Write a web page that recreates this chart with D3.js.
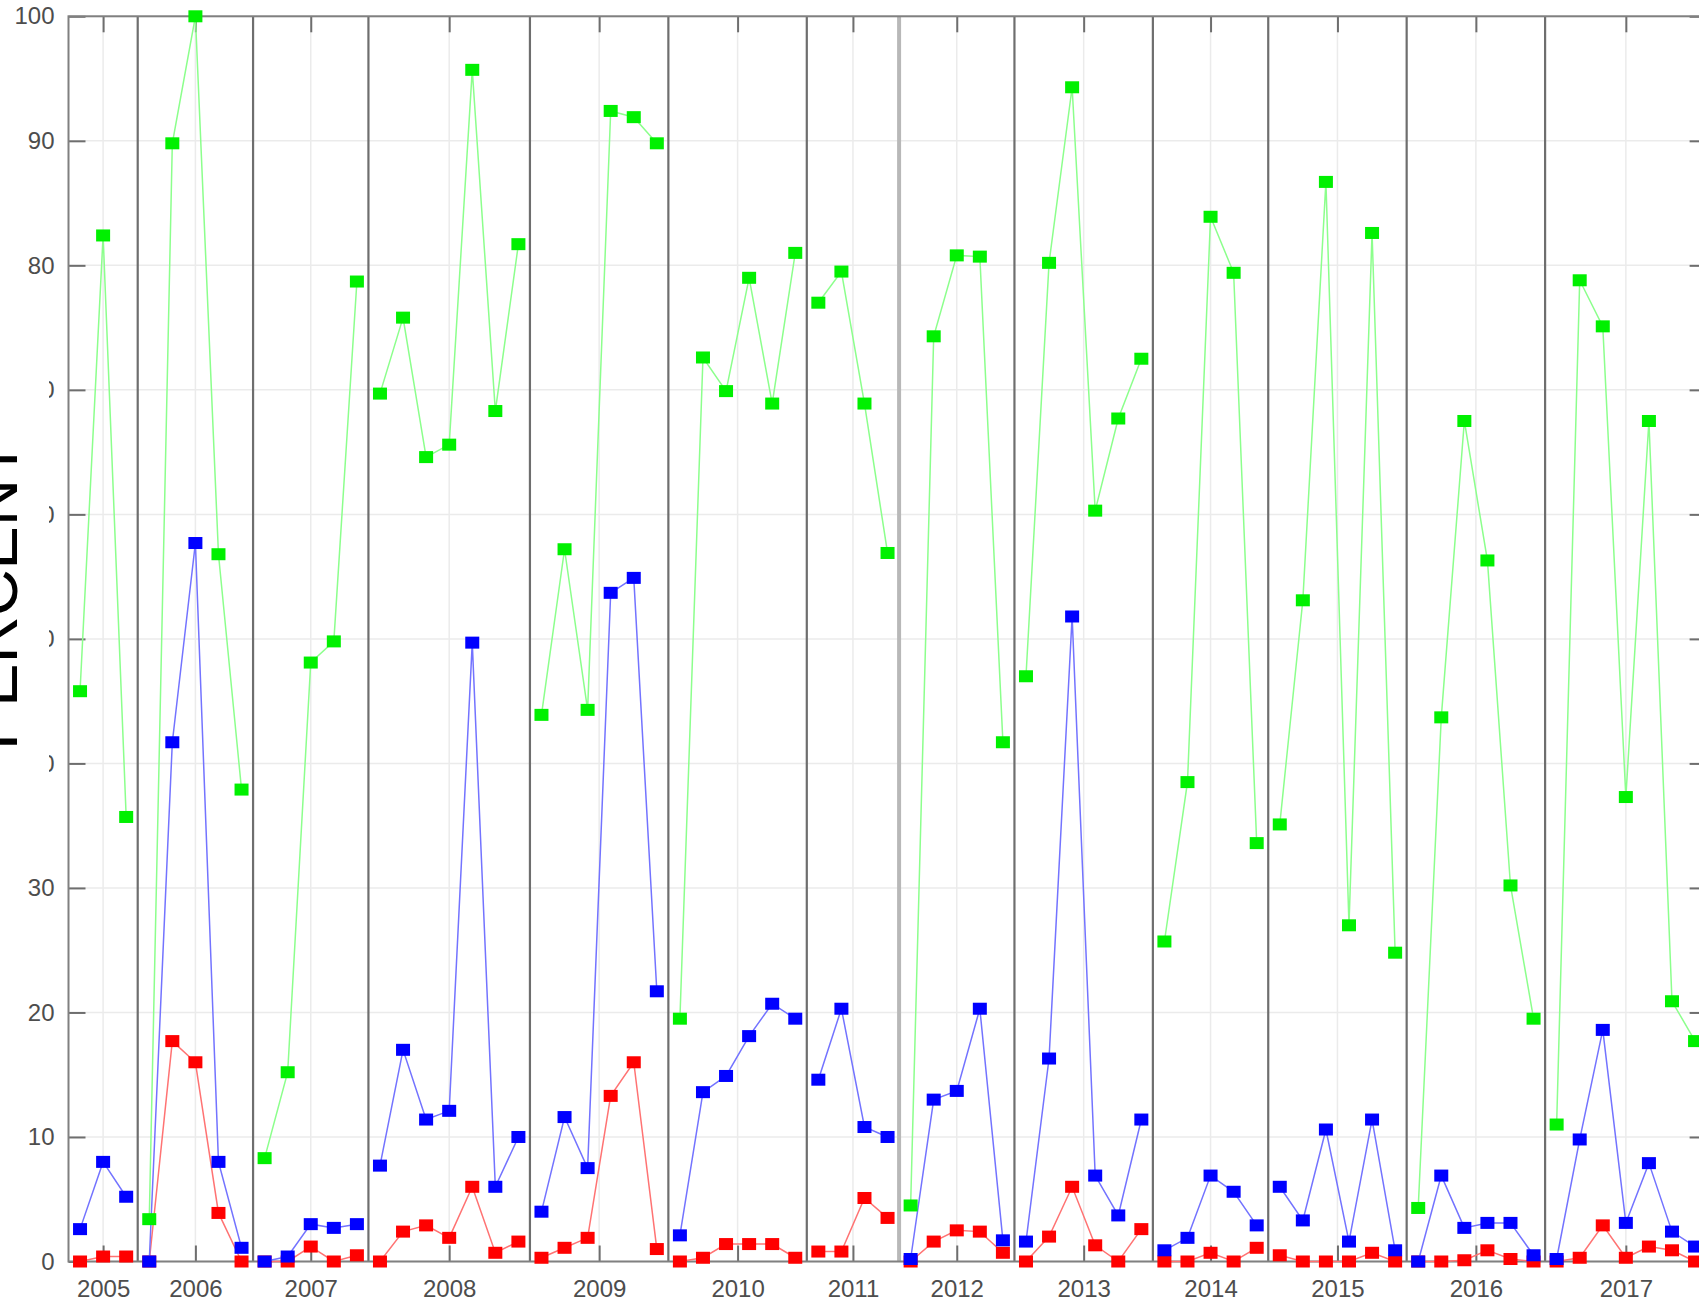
<!DOCTYPE html>
<html>
<head>
<meta charset="utf-8">
<script src="https://cdn.jsdelivr.net/npm/d3@7"></script>
<style>
  html, body { margin: 0; padding: 0; background: #fff; }
  svg { display: block; font-family: "Liberation Sans", Arial, Helvetica, sans-serif; }
</style>
</head>
<body>
<figure id="chart" style="margin:0"></figure>
<script>
// tick labels and how many readings fall in each year
const years = ["2005", "2006", "2007", "2008", "2009", "2010", "2011", "2012", "2013", "2014", "2015", "2016", "2017"];
const countsPerYear = [3, 5, 5, 7, 6, 6, 4, 5, 6, 5, 6, 6, 7];
const yTicks = [0, 10, 20, 30, 40, 50, 60, 70, 80, 90, 100];

// series values (percent), in order of the readings
const greenValues = [
  45.8, 82.4, 35.7,
  3.4, 89.8, 100, 56.8, 37.9,
  8.3, 15.2, 48.1, 49.8, 78.7,
  69.7, 75.8, 64.6, 65.6, 95.7, 68.3, 81.7,
  43.9, 57.2, 44.3, 92.4, 91.9, 89.8,
  19.5, 72.6, 69.9, 79.0, 68.9, 81.0,
  77.0, 79.5, 68.9, 56.9,
  4.5, 74.3, 80.8, 80.7, 41.7,
  47.0, 80.2, 94.3, 60.3, 67.7, 72.5,
  25.7, 38.5, 83.9, 79.4, 33.6,
  35.1, 53.1, 86.7, 27.0, 82.6, 24.8,
  4.3, 43.7, 67.5, 56.3, 30.2, 19.5,
  11.0, 78.8, 75.1, 37.3, 67.5, 20.9, 17.7
];
const blueValues = [
  2.6, 8.0, 5.2,
  0.0, 41.7, 57.7, 8.0, 1.1,
  0.0, 0.4, 3.0, 2.7, 3.0,
  7.7, 17.0, 11.4, 12.1, 49.7, 6.0, 10.0,
  4.0, 11.6, 7.5, 53.7, 54.9, 21.7,
  2.1, 13.6, 14.9, 18.1, 20.7, 19.5,
  14.6, 20.3, 10.8, 10.0,
  0.2, 13.0, 13.7, 20.3, 1.7,
  1.6, 16.3, 51.8, 6.9, 3.7, 11.4,
  0.9, 1.9, 6.9, 5.6, 2.9,
  6.0, 3.3, 10.6, 1.6, 11.4, 0.9,
  0.0, 6.9, 2.7, 3.1, 3.1, 0.5,
  0.2, 9.8, 18.6, 3.1, 7.9, 2.4, 1.2
];
const redValues = [
  0.0, 0.4, 0.4,
  0.0, 17.7, 16.0, 3.9, 0.0,
  0.0, 0.0, 1.2, 0.0, 0.5,
  0.0, 2.4, 2.9, 1.9, 6.0, 0.7, 1.6,
  0.3, 1.1, 1.9, 13.3, 16.0, 1.0,
  0.0, 0.3, 1.4, 1.4, 1.4, 0.3,
  0.8, 0.8, 5.1, 3.5,
  0.0, 1.6, 2.5, 2.4, 0.7,
  0.0, 2.0, 6.0, 1.3, 0.0, 2.6,
  0.0, 0.0, 0.7, 0.0, 1.1,
  0.5, 0.0, 0.0, 0.0, 0.7, 0.0,
  0.0, 0.0, 0.1, 0.9, 0.2, 0.0,
  0.0, 0.3, 2.9, 0.3, 1.2, 0.9, 0.0
];

const width = 1699, height = 1302;
const plot = { left: 68.5, top: 16.3, right: 1706.6, bottom: 1261.5 };
const n = greenValues.length;

const svg = d3.select("figure#chart")
  .append("svg")
  .attr("width", width)
  .attr("height", height);

svg.append("rect").attr("width", width).attr("height", height).attr("fill", "#fff");

// Scales
const x = d3.scaleLinear().domain([-0.5, n - 0.5]).range([plot.left, plot.right]);
const y = d3.scaleLinear().domain([0, 100]).range([plot.bottom, plot.top]);

// year groups: start index, middle (tick) and last index
let start = 0;
const groups = years.map((yr, i) => {
  const g = { year: yr, start: start, mid: start + (countsPerYear[i] - 1) / 2, end: start + countsPerYear[i] - 1 };
  start += countsPerYear[i];
  return g;
});
const yearTickPos = groups.map(g => g.mid);
const boundaries = groups.slice(0, -1).map(g => g.end + 0.5);

// Grid
svg.append("g")
  .selectAll("line")
  .data(yTicks)
  .enter()
  .append("line")
  .attr("x1", plot.left).attr("x2", plot.right)
  .attr("y1", d => y(d)).attr("y2", d => y(d))
  .attr("stroke", "#ebebeb")
  .attr("stroke-width", 1.5);

svg.append("g")
  .selectAll("line")
  .data(yearTickPos)
  .enter()
  .append("line")
  .attr("x1", d => x(d)).attr("x2", d => x(d))
  .attr("y1", plot.top).attr("y2", plot.bottom)
  .attr("stroke", "#ebebeb")
  .attr("stroke-width", 1.5);

// year separators (the 2011/2012 one is lighter and wider in the original)
svg.append("g")
  .selectAll("line")
  .data(boundaries)
  .enter()
  .append("line")
  .attr("x1", d => x(d)).attr("x2", d => x(d))
  .attr("y1", plot.top).attr("y2", plot.bottom)
  .attr("stroke", (d, i) => i === 6 ? "#b8b8b8" : "#6e6e6e")
  .attr("stroke-width", (d, i) => i === 6 ? 4 : 2.2);

// Axes
const tickFont = g => g.selectAll("text")
  .attr("font-size", 24)
  .attr("fill", "#4d4d4d")
  .attr("font-family", "Liberation Sans, Arial, sans-serif");

const styleAxis = g => {
  g.select(".domain").remove();
  g.selectAll(".tick line").attr("stroke", "#6e6e6e").attr("stroke-width", 2);
};

svg.append("g")
  .attr("transform", `translate(${plot.left},0)`)
  .call(d3.axisLeft(y).tickValues(yTicks).tickSize(-17).tickPadding(14))
  .call(styleAxis)
  .call(tickFont);

svg.append("g")
  .attr("transform", `translate(${plot.right},0)`)
  .call(d3.axisRight(y).tickValues(yTicks).tickSize(-17).tickFormat(""))
  .call(styleAxis);

svg.append("g")
  .attr("transform", `translate(0,${plot.bottom})`)
  .call(d3.axisBottom(x).tickValues(yearTickPos).tickSize(-16).tickPadding(18).tickFormat((d, i) => years[i]))
  .call(styleAxis)
  .call(tickFont);

svg.append("g")
  .attr("transform", `translate(0,${plot.top})`)
  .call(d3.axisTop(x).tickValues(yearTickPos).tickSize(-16).tickFormat(""))
  .call(styleAxis);

svg.append("rect")
  .attr("x", plot.left).attr("y", plot.top)
  .attr("width", plot.right - plot.left).attr("height", plot.bottom - plot.top)
  .attr("fill", "none")
  .attr("stroke", "#808080")
  .attr("stroke-width", 2);

// Series - each year is its own line, markers on every reading
const series = [
  { values: redValues, marker: "#ff0000", line: "#ff7373" },
  { values: blueValues, marker: "#0000ff", line: "#7373ff" },
  { values: greenValues, marker: "#00f000", line: "#8cff8c" }
];

const line = d3.line().x(d => x(d.i)).y(d => y(d.v));

series.forEach(s => {
  const pts = s.values.map((v, i) => ({ i: i, v: v }));

  svg.append("g")
    .selectAll("path")
    .data(groups)
    .enter()
    .append("path")
    .attr("d", g => line(pts.slice(g.start, g.end + 1)))
    .attr("fill", "none")
    .attr("stroke", s.line)
    .attr("stroke-width", 1.5);

  svg.append("g")
    .selectAll("rect")
    .data(pts)
    .enter()
    .append("rect")
    .attr("x", d => x(d.i) - 7)
    .attr("y", d => y(d.v) - 6)
    .attr("width", 14)
    .attr("height", 12)
    .attr("fill", s.marker);
});

// covered tick labels and the clipped y label
svg.append("rect")
  .attr("x", 0).attr("y", 322)
  .attr("width", 49).attr("height", 452)
  .attr("fill", "#fff");

svg.append("text")
  .attr("transform", "translate(16.5,750) rotate(-90)")
  .attr("font-size", 65)
  .attr("fill", "#000")
  .text("PERCENT");
</script>
</body>
</html>
